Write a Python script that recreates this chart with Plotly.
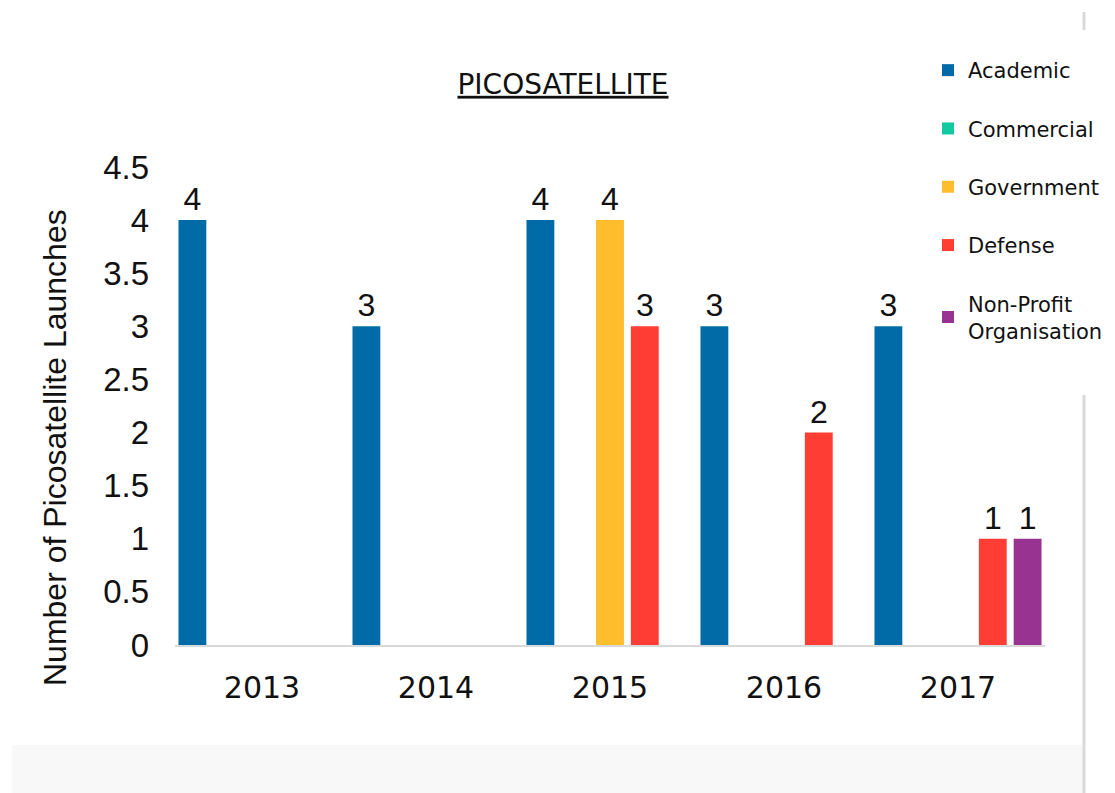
import plotly.graph_objects as go

years = ["2013", "2014", "2015", "2016", "2017"]
series_names = ["Academic", "Commercial", "Government", "Defense", "Non-Profit<br>Organisation"]
academic = [4, 3, 4, 3, 3]
commercial = [0, 0, 0, 0, 0]
government = [0, 0, 4, 0, 0]
defense = [0, 0, 3, 2, 1]
nonprofit = [0, 0, 0, 0, 1]
colors = ["#006BA6", "#12C9A2", "#FDBD2C", "#FE3E35", "#993391"]
y_ticks = [0, 0.5, 1, 1.5, 2, 2.5, 3, 3.5, 4, 4.5]
y_title = "Number of Picosatellite Launches"

OFF = 8  # page body margin
W, H = 1115 - 2 * OFF, 793 - OFF
L, R, T, B = 175 - OFF, 1045 - OFF, 167 - OFF, 645 - OFF
pw, ph = R - L, B - T
def px(x): return (x - OFF - L) / pw      # page x -> paper
def py(y): return (B - (y - OFF)) / ph    # page y -> paper

fig = go.Figure()
for i, (name, vals) in enumerate(zip(series_names, [academic, commercial, government, defense, nonprofit])):
    fig.add_trace(go.Bar(
        x=years, y=vals, name=name, legendgroup=f"g{i}",
        marker=dict(color=colors[i], line=dict(width=0)),
        text=[str(v) if v else "" for v in vals],
        textposition="outside",
        textfont=dict(family="Liberation Sans, Arial", size=32, color="#111111"),
        cliponaxis=False,
    ))

fig.update_layout(
    width=W, height=H,
    margin=dict(l=L, r=W - R, t=T, b=H - B, autoexpand=False),
    paper_bgcolor="white", plot_bgcolor="white",
    barmode="group", bargap=0.0, bargroupgap=0.2,
    title=dict(text="PICOSATELLITE", x=(563 - OFF) / W, xanchor="center",
               y=1 - (84 - OFF) / H, yanchor="middle",
               font=dict(family="DejaVu Sans", size=28, color="#111111", lineposition="under")),
    legend=dict(x=px(928), y=py(50), xanchor="left", yanchor="top", tracegroupgap=28,
                font=dict(family="DejaVu Sans", size=21, color="#111111"),
                itemwidth=30, bgcolor="rgba(0,0,0,0)"),
    showlegend=True,
    xaxis=dict(showgrid=False, showline=True, linecolor="#d9d9d9", linewidth=2, ticks="",
               tickfont=dict(family="DejaVu Sans", size=30, color="#111111"),
               ticklabelstandoff=15),
    yaxis=dict(range=[0, 4.5], tickvals=y_ticks, ticktext=[f"{v:g}" for v in y_ticks],
               showgrid=False, zeroline=False, showline=False, ticks="",
               tickfont=dict(family="Liberation Sans, Arial", size=33, color="#111111"),
               ticklabelstandoff=25),
    annotations=[
        dict(text=y_title, textangle=-90, xref="paper", yref="paper",
             x=px(55), y=py(448), xanchor="center", yanchor="middle", showarrow=False,
             font=dict(family="Liberation Sans, Arial", size=32, color="#111111")),
    ],
    shapes=[
        dict(type="rect", xref="paper", yref="paper", x0=px(12), x1=px(1083), y0=py(745), y1=py(800),
             fillcolor="#f8f8f8", line=dict(width=0), layer="below"),
        dict(type="line", xref="paper", yref="paper", x0=px(1084), x1=px(1084), y0=py(395), y1=py(800),
             line=dict(color="#d9d9d9", width=3)),
        dict(type="line", xref="paper", yref="paper", x0=px(1084), x1=px(1084), y0=py(12), y1=py(30),
             line=dict(color="#d9d9d9", width=3)),
    ],
)

fig.write_html("out.html")
